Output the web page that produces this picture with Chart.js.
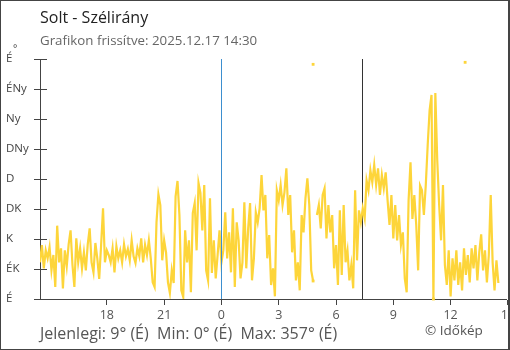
<!DOCTYPE html>
<html>
<head>
<meta charset="utf-8">
<script src="https://cdn.jsdelivr.net/npm/chart.js@4.4.1/dist/chart.umd.min.js"></script>
<style>
    body { margin: 0; background: #fff; font-family: "Open Sans", sans-serif; }
    #wrap { position: relative; width: 510px; height: 350px; overflow: hidden; }
    #windChart { position: absolute; left: 0; top: 0; }
    #frame { position: absolute; left: 0; top: 0; width: 510px; height: 350px; box-sizing: border-box; border: 1px solid #444; border-right-width: 2px; pointer-events: none; }
    .txt { position: absolute; white-space: pre; line-height: 1; }
</style>
</head>
<body>
<div id="wrap">
    <canvas id="windChart" width="510" height="350"></canvas>
    <div class="txt" style="left:40px;top:9px;font-size:16px;color:#222">Solt - Szélirány</div>
    <div class="txt" style="left:40px;top:34px;font-size:13.3px;color:#666">Grafikon frissítve: 2025.12.17 14:30</div>
    <div class="txt" style="left:13px;top:43px;font-size:10px;color:#444">°</div>
    <div class="txt" style="left:40px;top:325px;font-size:16px;color:#555">Jelenlegi: 9° (É)  Min: 0° (É)  Max: 357° (É)</div>
    <div class="txt" style="left:425px;top:324px;font-size:13.5px;color:#555">© Időkép</div>
    <div id="frame"></div>
</div>
<script>
// Idő: órák éjfélhez képest (előző nap 14:30-tól), 6 perces lépés
const startHour = -9.5;
const stepHour = 0.1;

// Szélirány (fok), kiolvasva a képről
const windDir = [
    55, 81, 46, 73, 61, 78, 43, 66, 18, 110,
    55, 76, 16, 73, 49, 82, 103, 51, 18, 91,
    55, 76, 46, 70, 43, 82, 106, 55, 40, 84,
    61, 30, 81, 136, 55, 73, 66, 55, 76, 40,
    79, 61, 73, 55, 82, 64, 75, 58, 88, 64,
    54, 76, 64, 91, 55, 81, 66, 88, 61, 25,
    18, 115, 157, 141, 58, 88, 70, 25, 9, 43,
    24, 154, 177, 126, 13, 3, 103, 55, 88, 10,
    129, 144, 73, 174, 159, 103, 171, 43, 28, 151,
    39, 88, 31, 66, 103, 55, 73, 130, 61, 100,
    40, 136, 18, 115, 88, 31, 55, 145, 46, 106,
    144, 28, 61, 130, 115, 136, 186, 133, 156, 61,
    96, 21, 46, 4, 163, 148, 171, 141, 160, 196,
    126, 156, 70, 103, 28, 55, 13, 126, 100, 151,
    181, 141, 43, 27, null, 126, 141, 106, 156, 166,
    91, 141, 100, 126, 46, 81, 21, 133, 36, 141,
    55, 73, 28, 51, 16, 163, 58, 133, 115, 136,
    121, 178, 163, 193, 175, 201, 171, 196, 156, 186,
    166, 190, 148, 111, 156, 91, 141, 88, 126, 81,
    100, 31, 10, 148, 205, 120, 156, 111, 43, 170,
    163, 126, 171, 231, 283, 306, 0, 309, 208, 141,
    88, 171, 51, 21, 73, 4, 61, 28, 73, 21,
    55, 13, 76, 36, 66, 25, 76, 46, 81, 28,
    70, 97, 43, 73, 25, 66, 156, 55, 13, 58,
    24
];

// Különálló pontok
const dotHours = [4.8, 4.8, 11.1, 12.76];
const dotDir = [352, 27, 0, 355];

// Tengelyfeliratok
const dirLabels = ['É', 'ÉK', 'K', 'DK', 'D', 'DNy', 'Ny', 'ÉNy', 'É'];
const xTickHours = [-6, -3, 0, 3, 6, 9, 12, 15];
const xTickLabels = ['18', '21', '0', '3', '6', '9', '12', '15'];

// Függőleges vonalak: éjfél és napkelte
const midnightHour = 0;
const sunriseHour = 7.38;

const lineColor = '#fdd53a';
const axisColor = '#444';

const windPoints = windDir.map((v, i) => ({ x: startHour + i * stepHour, y: v }));
const dotPoints = dotHours.map((h, i) => ({ x: h, y: dotDir[i] }));

function vLine(chart, hour, color) {
    const { ctx, chartArea, scales } = chart;
    const x = Math.round(scales.x.getPixelForValue(hour)) + 0.5;
    ctx.save();
    ctx.strokeStyle = color;
    ctx.lineWidth = 1;
    ctx.beginPath();
    ctx.moveTo(x, chartArea.top);
    ctx.lineTo(x, chartArea.bottom);
    ctx.stroke();
    ctx.restore();
}

const markerPlugin = {
    id: 'markers',
    beforeDatasetsDraw(chart) {
        vLine(chart, sunriseHour, '#333');
    },
    afterDatasetsDraw(chart) {
        vLine(chart, midnightHour, '#3d8fcf');
    },
    afterDraw(chart) {
        // belső fele az y tengely jelöléseinek
        const { ctx, chartArea, scales } = chart;
        ctx.save();
        ctx.strokeStyle = axisColor;
        ctx.lineWidth = 1;
        scales.y.ticks.forEach(t => {
            const y = Math.round(scales.y.getPixelForValue(t.value)) + 0.5;
            ctx.beginPath();
            ctx.moveTo(chartArea.left, y);
            ctx.lineTo(chartArea.left + 7, y);
            ctx.stroke();
        });
        ctx.restore();
    }
};

const ctx = document.getElementById('windChart').getContext('2d');
const windChart = new Chart(ctx, {
    type: 'line',
    data: {
        datasets: [{
            data: windPoints,
            borderColor: lineColor,
            borderWidth: 2.2,
            borderJoinStyle: 'miter',
            pointRadius: 0,
            tension: 0,
            spanGaps: false
        }, {
            data: dotPoints,
            showLine: false,
            pointStyle: 'rect',
            pointRadius: 2,
            pointBackgroundColor: lineColor,
            pointBorderWidth: 0,
            clip: false
        }]
    },
    options: {
        responsive: false,
        animation: false,
        layout: { padding: { left: 6, right: 0, top: 59, bottom: 0 } },
        plugins: {
            legend: { display: false },
            tooltip: { enabled: false }
        },
        scales: {
            x: {
                type: 'linear',
                min: -9.5,
                max: 14.9,
                afterBuildTicks(scale) {
                    scale.ticks = xTickHours.map(v => ({ value: v }));
                },
                afterFit(scale) {
                    scale.height = 51;
                    scale.paddingLeft = 0;
                    scale.paddingRight = 0;
                },
                grid: { drawOnChartArea: false, tickLength: 6, color: axisColor },
                border: { color: axisColor },
                ticks: {
                    autoSkip: false,
                    maxRotation: 0,
                    padding: 3,
                    color: '#555',
                    font: { family: 'Open Sans', size: 12.5 },
                    callback: (v) => xTickLabels[xTickHours.indexOf(v)]
                }
            },
            y: {
                min: 0,
                max: 360,
                afterBuildTicks(scale) {
                    scale.ticks = dirLabels.map((l, i) => ({ value: i * 45 }));
                },
                afterFit(scale) {
                    scale.width = 34;
                    scale.paddingTop = 0;
                    scale.paddingBottom = 0;
                },
                grid: { drawOnChartArea: false, tickLength: 6, color: axisColor },
                border: { color: axisColor },
                ticks: {
                    crossAlign: 'far',
                    color: '#444',
                    font: { family: 'Open Sans', size: 11.5 },
                    callback: (v) => dirLabels[Math.round(v / 45)]
                }
            }
        }
    },
    plugins: [markerPlugin]
});
</script>
</body>
</html>
